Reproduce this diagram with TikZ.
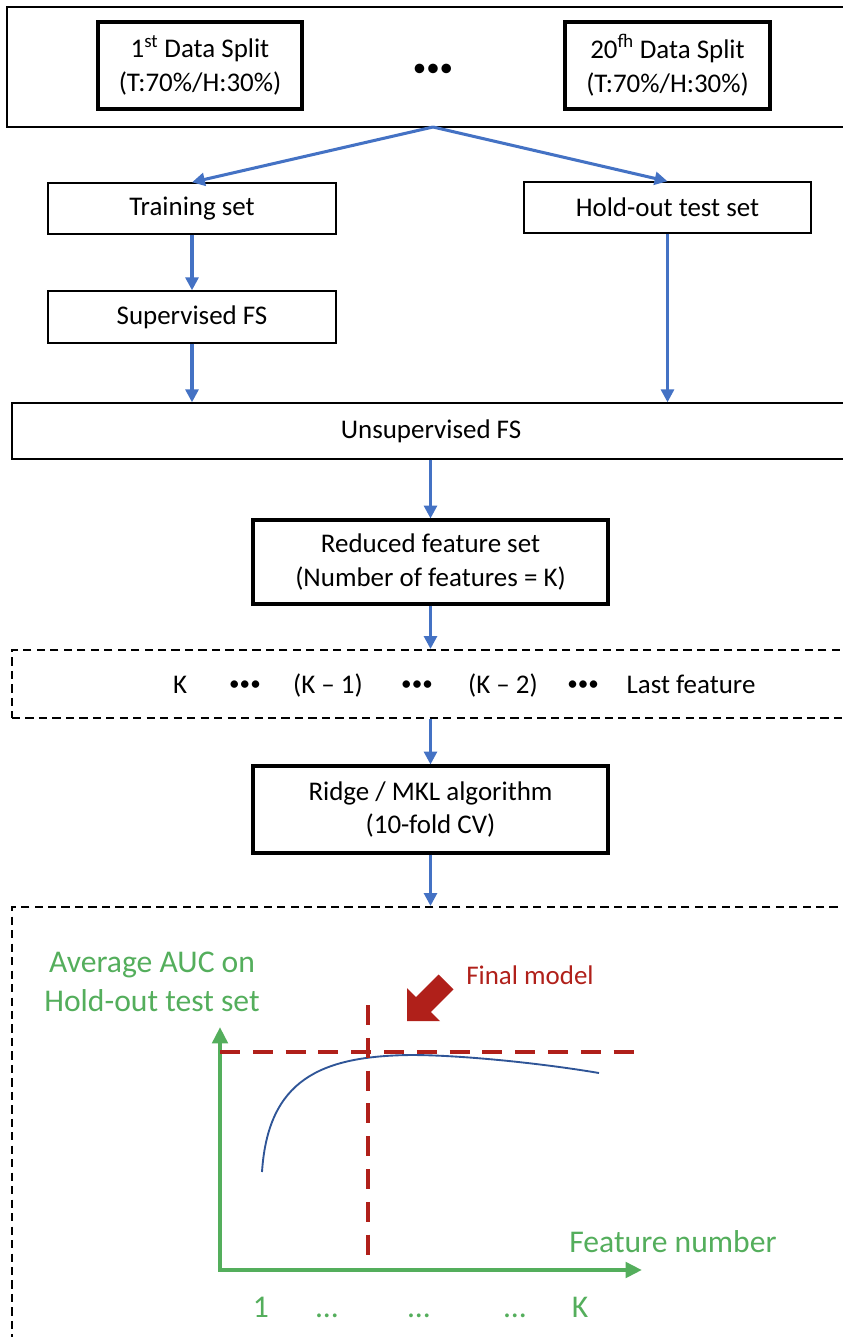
\documentclass[tikz,border=0pt]{standalone}
\usepackage{fontspec}
\setmainfont{Carlito}
\usetikzlibrary{positioning,arrows.meta}

\definecolor{flowblue}{RGB}{68,114,196}
\definecolor{curveblue}{RGB}{47,85,151}
\definecolor{aucgreen}{RGB}{84,174,92}
\definecolor{modelred}{RGB}{176,32,26}

\tikzset{
  >={Triangle[length=11pt,width=11pt]},
  flow/.style={->, flowblue, line width=2.6pt},
  box/.style={draw, line width=1.2pt, font=\fontsize{23}{29}\selectfont, align=center, inner sep=0pt},
  thickbox/.style={box, line width=2.6pt},
  dashbox/.style={draw, line width=1.8pt, dash pattern=on 7pt off 4.5pt},
  lbl/.style={font=\fontsize{23}{29}\selectfont, anchor=base, inner sep=0pt},
  bullets/.style={font=\fontsize{18}{18}\selectfont, anchor=base, inner sep=0pt},
  glbl/.style={text=aucgreen, font=\fontsize{27}{33}\selectfont, inner sep=0pt},
  axis/.style={aucgreen, line width=3.5pt, arrows={Triangle[length=14pt,width=13pt]-Triangle[length=14pt,width=13pt]}},
  peak/.style={modelred, line width=3.8pt, dash pattern=on 17pt off 11pt},
}

\begin{document}
\begin{tikzpicture}[x=0.03cm, y=-0.03cm]
  \useasboundingbox (0,0) rectangle (843,1337);
  \clip (0,0) rectangle (843,1337);

  % Data splits on top
  \node[box, line width=1.8pt, minimum width=25.29cm, minimum height=3.6cm] (splits) at (428.5,67) {};
  \node[thickbox, minimum width=6.12cm, minimum height=2.61cm] (split1) at (200,65.5) {1\textsuperscript{st} Data Split\\(T:70\%/H:30\%)};
  \node[thickbox, minimum width=6.15cm, minimum height=2.61cm] (split20) at (667.5,65.5) {20\textsuperscript{fh} Data Split\\(T:70\%/H:30\%)};
  \node[font=\fontsize{23}{23}\selectfont] (sdots) at (433,70) {\textbullet\textbullet\textbullet};
  \coordinate (fork) at (433,127);

  % Training and hold-out branches
  \node[box, minimum width=8.64cm, minimum height=1.53cm] (train) at (192,208.5) {Training set};
  \node[box, minimum width=8.61cm, minimum height=1.53cm] (hold) at (667.5,207.5) {Hold-out test set};
  \node[box, minimum width=8.64cm, minimum height=1.56cm] (sup) at (192,317) {Supervised FS};
  \node[box, minimum width=25.14cm, minimum height=1.68cm] (unsup) at (431,431) {Unsupervised FS};

  \draw[flow] (fork) -- (train.north);
  \draw[flow] (fork) -- (hold.north);
  \draw[flow] (train) -- (sup);
  \draw[flow] (sup) -- (sup |- unsup.north);
  \draw[flow] (hold) -- (hold |- unsup.north);

  % Feature reduction and model
  \node[thickbox, minimum width=10.65cm, minimum height=2.52cm] (reduced) at (430.5,562) {Reduced feature set\\(Number of features = K)};
  \node[dashbox, minimum width=25.14cm, minimum height=2.04cm] (feats) at (431,684) {};
  \node[thickbox, minimum width=10.65cm, minimum height=2.61cm] (ridge) at (430.5,809.5) {Ridge / MKL algorithm\\(10-fold CV)};
  \node[dashbox, minimum width=25.14cm, minimum height=13.29cm] (plot) at (431,1128.5) {};

  \draw[flow] (reduced |- unsup.south) -- (reduced.north);
  \draw[flow] (reduced.south) -- (reduced.south |- feats.north);
  \draw[flow] (ridge |- feats.south) -- (ridge.north);
  \draw[flow] (ridge.south) -- (ridge.south |- plot.north);

  \node[lbl] (fk) at (180,693) {K};
  \node[bullets] (fdots1) at (245,690) {\textbullet\textbullet\textbullet};
  \node[lbl] (fk1) at (328,693) {(K -- 1)};
  \node[bullets] (fdots2) at (417,690) {\textbullet\textbullet\textbullet};
  \node[lbl] (fk2) at (503,693) {(K -- 2)};
  \node[bullets] (fdots3) at (583,690) {\textbullet\textbullet\textbullet};
  \node[lbl] (flast) at (691,693) {Last feature};

  % AUC plot
  \coordinate (o) at (220,1270);
  \coordinate (ytop) at (220,1027);
  \coordinate (xend) at (642,1270);
  \draw[axis] (ytop) -- (o) -- (xend);
  \draw[curveblue, line width=1.6pt] (262,1172) .. controls (268,1080) and (320,1056) .. (411,1055)
    .. controls (460,1055) and (540,1063) .. (599,1073);
  \draw[peak] (220,1052) -- (641,1052);
  \draw[peak] (368,1005) -- (368,1265);
  \fill[modelred] (407,1021) -- (407,988) -- (416.1,997.1) -- (438.7,974.5)
    -- (453.5,989.3) -- (430.9,1011.9) -- (440,1021) -- cycle;

  \node[glbl, align=center] (auc) at (152,982) {Average AUC on\\Hold-out test set};
  \node[text=modelred, font=\fontsize{23}{29}\selectfont, inner sep=0pt] (final) at (530,975) {Final model};
  \node[glbl] (fnum) at (673,1242) {Feature number};
  \node[glbl, anchor=base] (t1) at (261,1317) {1};
  \node[glbl, anchor=base] (tdots1) at (327,1317) {...};
  \node[glbl, anchor=base] (tdots2) at (419,1317) {...};
  \node[glbl, anchor=base] (tdots3) at (515,1317) {...};
  \node[glbl, anchor=base] (tk) at (580,1317) {K};
\end{tikzpicture}
\end{document}
